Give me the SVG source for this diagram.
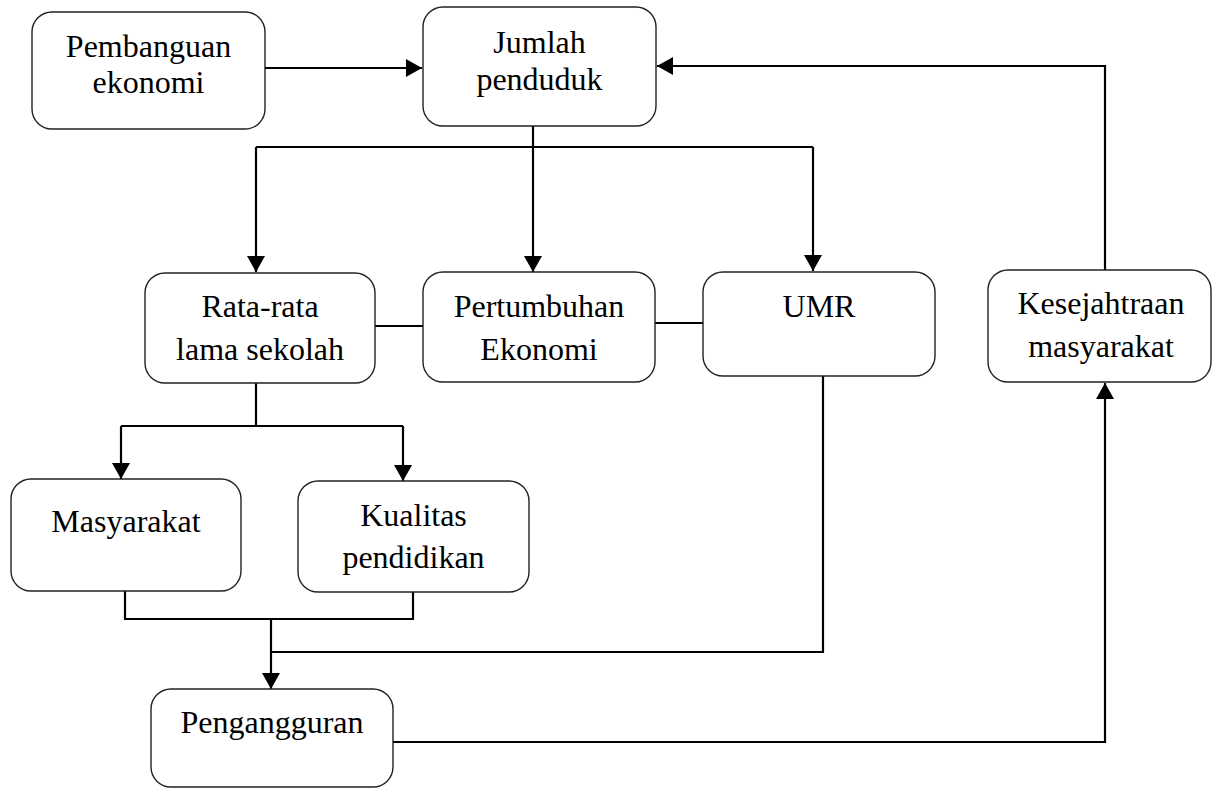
<svg xmlns="http://www.w3.org/2000/svg" width="1212" height="789" viewBox="0 0 1212 789">
<style>
.box{fill:#fff;stroke:#222;stroke-width:1.4}
text{font-family:Liberation Serif,Times New Roman,Tinos,Noto Serif,DejaVu Serif,serif;font-size:32px;fill:#000;text-anchor:middle}
.c{fill:none;stroke:#000;stroke-width:2.2}
.a{marker-end:url(#ah)}
</style>
<defs>
<marker id="ah" markerUnits="userSpaceOnUse" markerWidth="18" markerHeight="20" refX="16" refY="9" orient="auto">
<path d="M0,0 L16,9 L0,18 Z" fill="#000"/>
</marker>
</defs>
<rect width="1212" height="789" fill="#fff"/>
<g id="connectors">
<path class="c a" d="M265,68 H422"/>
<path class="c a" d="M1105,270 V66 H657"/>
<path class="c a" d="M533,126 V272"/>
<path class="c" d="M256,147 H813"/>
<path class="c a" d="M256,147 V272"/>
<path class="c a" d="M813,147 V271"/>
<path class="c" d="M375,326 H423"/>
<path class="c" d="M655,323 H703"/>
<path class="c" d="M256,383 V426"/>
<path class="c" d="M121,426 H403"/>
<path class="c a" d="M121,426 V479"/>
<path class="c a" d="M403,426 V481"/>
<path class="c" d="M125,591 V619 H413 V592"/>
<path class="c a" d="M271,619 V689"/>
<path class="c" d="M823,376 V652 H271"/>
<path class="c a" d="M393,742 H1105 V383"/>
</g>
<g id="pembanguan"><rect class="box" x="32" y="12" width="233" height="117" rx="20"/><text x="148.5" y="57">Pembanguan</text><text x="148.5" y="93">ekonomi</text></g>
<g id="jumlah"><rect class="box" x="423" y="7" width="233" height="119" rx="20"/><text x="539.5" y="53">Jumlah</text><text x="539.5" y="90">penduduk</text></g>
<g id="ratarata"><rect class="box" x="145" y="273" width="230" height="110" rx="20"/><text x="260" y="317">Rata-rata</text><text x="260" y="360">lama sekolah</text></g>
<g id="pertumbuhan"><rect class="box" x="423" y="272" width="232" height="110" rx="20"/><text x="539" y="317">Pertumbuhan</text><text x="539" y="360">Ekonomi</text></g>
<g id="umr"><rect class="box" x="703" y="272" width="232" height="104" rx="20"/><text x="819" y="317">UMR</text></g>
<g id="kesejahtraan"><rect class="box" x="988" y="270" width="223" height="112" rx="20"/><text x="1101" y="314">Kesejahtraan</text><text x="1101" y="357">masyarakat</text></g>
<g id="masyarakat"><rect class="box" x="11" y="479" width="230" height="112" rx="20"/><text x="126" y="532">Masyarakat</text></g>
<g id="kualitas"><rect class="box" x="298" y="481" width="231" height="111" rx="20"/><text x="413.5" y="526">Kualitas</text><text x="413.5" y="568">pendidikan</text></g>
<g id="pengangguran"><rect class="box" x="151" y="689" width="242" height="98" rx="20"/><text x="272" y="733">Pengangguran</text></g>
</svg>
